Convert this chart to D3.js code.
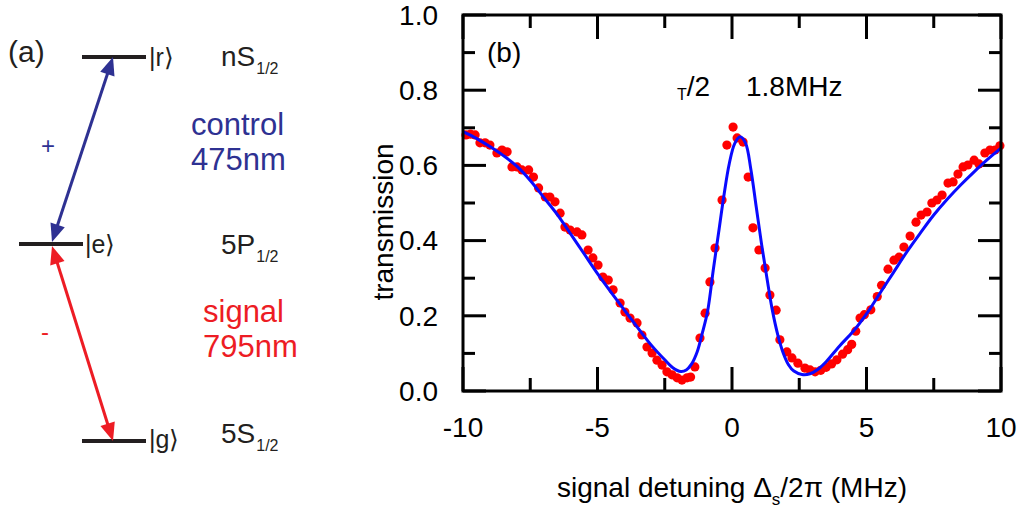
<!DOCTYPE html>
<html>
<head>
<meta charset="utf-8">
<script src="https://cdn.jsdelivr.net/npm/d3@7"></script>
<style>
  body { margin: 0; background: #fff; }
  svg text { font-family: "Liberation Sans", Arial, sans-serif; }
</style>
</head>
<body>
<div id="chart"></div>
<script>
// measured transmission (red dots)
var dataDetuning = [-9.89,-9.72,-9.55,-9.37,-9.18,-9.0,-8.74,-8.55,-8.36,-8.18,-7.99,-7.81,-7.56,-7.38,-7.19,-6.94,-6.77,-6.58,-6.39,-6.21,-6.02,-5.76,-5.58,-5.35,-5.17,-4.98,-4.8,-4.6,-4.42,-4.16,-3.98,-3.79,-3.53,-3.35,-3.16,-2.97,-2.79,-2.6,-2.42,-2.23,-2.04,-1.86,-1.67,-1.54,-1.38,-1.19,-1.0,-0.82,-0.63,-0.37,-0.19,0.04,0.19,0.41,0.6,0.78,1.0,1.23,1.41,1.64,1.78,2.04,2.23,2.45,2.71,2.9,3.09,3.3,3.5,3.7,3.9,4.11,4.3,4.45,4.6,4.76,4.92,5.16,5.4,5.56,5.8,6.02,6.21,6.39,6.62,6.84,7.03,7.25,7.43,7.62,7.81,8.03,8.22,8.4,8.59,8.77,9.0,9.18,9.4,9.59,9.78,9.96];
var dataTrans = [0.681,0.683,0.681,0.66,0.66,0.654,0.633,0.641,0.636,0.596,0.596,0.588,0.588,0.569,0.54,0.516,0.516,0.503,0.473,0.436,0.428,0.423,0.415,0.375,0.354,0.335,0.303,0.295,0.269,0.234,0.21,0.194,0.181,0.149,0.117,0.101,0.082,0.069,0.051,0.043,0.035,0.029,0.035,0.037,0.064,0.141,0.207,0.29,0.38,0.508,0.654,0.702,0.673,0.662,0.569,0.434,0.375,0.327,0.255,0.215,0.136,0.104,0.088,0.074,0.061,0.056,0.051,0.055,0.063,0.072,0.083,0.098,0.11,0.124,0.159,0.194,0.203,0.216,0.251,0.281,0.324,0.348,0.356,0.383,0.412,0.449,0.468,0.476,0.5,0.508,0.521,0.553,0.556,0.577,0.596,0.601,0.614,0.604,0.633,0.641,0.641,0.652];

// fit curve (blue)
var fitDetuning = [-10,-9.5,-9,-8.5,-8,-7.5,-7,-6.5,-6,-5.5,-5,-4.5,-4,-3.5,-3,-2.5,-2.2,-1.9,-1.7,-1.5,-1.3,-1.1,-0.9,-0.7,-0.5,-0.3,-0.1,0.1,0.3,0.5,0.7,0.9,1.1,1.3,1.5,1.7,1.9,2.1,2.3,2.6,2.9,3.2,3.5,4,4.5,5,5.5,6,6.5,7,7.5,8,8.5,9,9.5,10];
var fitTrans = [0.690,0.672,0.650,0.626,0.598,0.560,0.515,0.470,0.418,0.365,0.312,0.263,0.215,0.168,0.122,0.083,0.062,0.052,0.056,0.072,0.103,0.155,0.215,0.32,0.42,0.52,0.605,0.658,0.676,0.66,0.59,0.49,0.39,0.30,0.215,0.15,0.102,0.07,0.053,0.044,0.046,0.058,0.078,0.12,0.158,0.205,0.26,0.315,0.37,0.42,0.468,0.51,0.548,0.583,0.616,0.646];

var xMajor = [-10,-5,0,5,10];
var xMinor = [-7.5,-2.5,2.5,7.5];
var yMajor = [0,0.2,0.4,0.6,0.8,1.0];
var yMinor = [0.1,0.3,0.5,0.7,0.9];

var w = 1020, h = 510;
var svg = d3.select("#chart").append("svg")
  .attr("width", w).attr("height", h);

// ---------- panel (a): level scheme ----------
var blue = "#2e3192", red = "#ed1c24", ink = "#231f20";

svg.append("text").attr("x", 8).attr("y", 62).attr("font-size", 30).attr("fill", ink).text("(a)");

var levels = [
  {x1: 82, x2: 146, y: 57, label: "|r\u27e9", lx: 149, ly: 66},
  {x1: 19, x2: 83, y: 244, label: "|e\u27e9", lx: 85, ly: 253},
  {x1: 82, x2: 146, y: 441, label: "|g\u27e9", lx: 149, ly: 448}
];
svg.selectAll(".level").data(levels).enter().append("line")
  .attr("x1", d => d.x1).attr("x2", d => d.x2)
  .attr("y1", d => d.y).attr("y2", d => d.y)
  .attr("stroke", ink).attr("stroke-width", 4);
svg.selectAll(".ket").data(levels).enter().append("text")
  .attr("x", d => d.lx).attr("y", d => d.ly)
  .attr("font-size", 25).attr("fill", ink).text(d => d.label);

function stateLabel(x, y, main, sub) {
  var t = svg.append("text").attr("x", x).attr("y", y).attr("font-size", 28).attr("fill", ink);
  t.append("tspan").text(main);
  t.append("tspan").attr("font-size", 16).attr("dy", 8).attr("dx", 1).text(sub);
}
stateLabel(221, 66, "nS", "1/2");
stateLabel(221, 254, "5P", "1/2");
stateLabel(221, 443, "5S", "1/2");

function arrow(x1, y1, x2, y2, col) {
  var dx = x2 - x1, dy = y2 - y1, L = Math.sqrt(dx*dx + dy*dy);
  var ux = dx / L, uy = dy / L, hl = 18, hw = 7.5;
  svg.append("line")
    .attr("x1", x1 + ux*hl*0.8).attr("y1", y1 + uy*hl*0.8)
    .attr("x2", x2 - ux*hl*0.8).attr("y2", y2 - uy*hl*0.8)
    .attr("stroke", col).attr("stroke-width", 3);
  [[x1, y1, 1], [x2, y2, -1]].forEach(function(p) {
    var tx = p[0], ty = p[1], s = p[2];
    var bx = tx + s*ux*hl, by = ty + s*uy*hl;
    svg.append("path")
      .attr("d", "M" + tx + "," + ty + "L" + (bx - uy*hw) + "," + (by + ux*hw) +
                 "L" + (bx + uy*hw) + "," + (by - ux*hw) + "Z")
      .attr("fill", col);
  });
}
arrow(113, 57, 52, 242, blue);
arrow(52, 246, 113, 441, red);

svg.append("text").attr("x", 48).attr("y", 154).attr("text-anchor", "middle")
  .attr("font-size", 24).attr("fill", blue).text("+");
svg.append("text").attr("x", 45).attr("y", 340).attr("text-anchor", "middle")
  .attr("font-size", 24).attr("fill", red).text("-");

svg.append("text").attr("x", 191).attr("y", 135).attr("font-size", 31).attr("fill", blue).text("control");
svg.append("text").attr("x", 191).attr("y", 170).attr("font-size", 31).attr("fill", blue).text("475nm");
svg.append("text").attr("x", 203).attr("y", 322).attr("font-size", 31).attr("fill", red).text("signal");
svg.append("text").attr("x", 203).attr("y", 357).attr("font-size", 31).attr("fill", red).text("795nm");

// ---------- panel (b): transmission ----------
var x = d3.scaleLinear().domain([-10, 10]).range([463, 1001]);
var y = d3.scaleLinear().domain([0, 1]).range([391, 15]);
var pLeft = 463, pRight = 1001, pBottom = 391, pTop = 15;

var g = svg.append("g");

// inward ticks on all four sides, as filled rects
var tickRects = [];
xMajor.concat(xMinor).forEach(function(v) {
  var len = xMajor.indexOf(v) >= 0 ? 24 : 13;
  tickRects.push({x: x(v) - 1.5, y: pBottom - len, w: 3, h: len});
  tickRects.push({x: x(v) - 1.5, y: pTop, w: 3, h: len});
});
yMajor.concat(yMinor).forEach(function(v) {
  var len = yMajor.indexOf(v) >= 0 ? 23 : 12;
  tickRects.push({x: pLeft, y: y(v) - 1.5, w: len, h: 3});
  tickRects.push({x: pRight - len, y: y(v) - 1.5, w: len, h: 3});
});
g.selectAll("rect.tick").data(tickRects).enter().append("rect")
  .attr("class", "tick")
  .attr("x", d => d.x).attr("y", d => d.y)
  .attr("width", d => d.w).attr("height", d => d.h)
  .attr("fill", "#000");

// tick labels
g.selectAll("text.xl").data(xMajor).enter().append("text")
  .attr("class", "xl").attr("x", d => x(d)).attr("y", 437)
  .attr("text-anchor", "middle").attr("font-size", 28)
  .text(d => String(d));
g.selectAll("text.yl").data(yMajor).enter().append("text")
  .attr("class", "yl").attr("x", 438).attr("y", d => y(d)).attr("dy", "0.35em")
  .attr("text-anchor", "end").attr("font-size", 28)
  .text(d => d.toFixed(1));

// data dots
var pts = dataDetuning.map((d, i) => [d, dataTrans[i]]);
g.selectAll("circle.pt").data(pts).enter().append("circle")
  .attr("class", "pt")
  .attr("cx", d => x(d[0])).attr("cy", d => y(d[1]))
  .attr("r", 4.6).attr("fill", "#ff0000");

// fit line
var fit = fitDetuning.map((d, i) => [d, fitTrans[i]]);
g.append("path").datum(fit)
  .attr("d", d3.line().x(d => x(d[0])).y(d => y(d[1])).curve(d3.curveCatmullRom.alpha(0.5)))
  .attr("fill", "none").attr("stroke", "#0a0aff").attr("stroke-width", 3);

// frame
g.append("rect").attr("x", pLeft).attr("y", pTop).attr("width", pRight - pLeft).attr("height", pBottom - pTop)
  .attr("fill", "none").attr("stroke", "#000").attr("stroke-width", 3);

g.append("text").attr("x", 487).attr("y", 62).attr("font-size", 28).text("(b)");

var gl = g.append("text").attr("y", 96).attr("font-size", 28);
gl.append("tspan").attr("x", 677).attr("dy", 4).attr("font-size", 16).text("T");
gl.append("tspan").attr("dy", -4).text("/2");
gl.append("tspan").attr("x", 746).text("1.8MHz");

// axis titles
g.append("text").attr("transform", "translate(393,222) rotate(-90)")
  .attr("text-anchor", "middle").attr("font-size", 28).text("transmission");

var xt = g.append("text").attr("x", 732).attr("y", 497).attr("text-anchor", "middle").attr("font-size", 28);
xt.append("tspan").text("signal detuning \u0394");
xt.append("tspan").attr("font-size", 17).attr("dy", 8).text("s");
xt.append("tspan").attr("dy", -8).text("/2\u03c0 (MHz)");
</script>
</body>
</html>
